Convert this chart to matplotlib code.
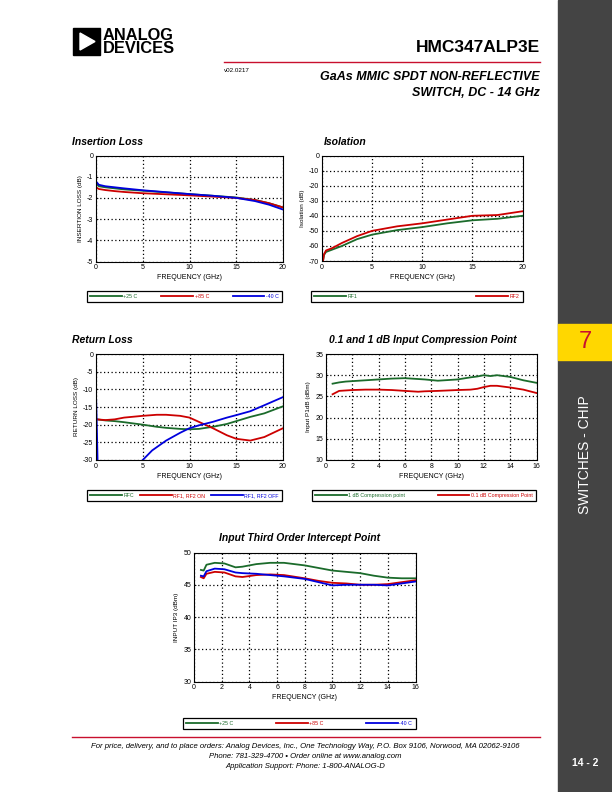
import matplotlib
matplotlib.use("Agg")
import matplotlib.pyplot as plt
from matplotlib.patches import Rectangle, Polygon
from matplotlib.lines import Line2D

plt.rcParams["font.family"] = ["Liberation Sans", "DejaVu Sans"]
plt.rcParams["axes.unicode_minus"] = False

GREEN = "#1b6b2b"
RED = "#cc0000"
BLUE = "#0000dd"

# ---- Insertion loss (dB) vs frequency (GHz)
il_freq = [0.0, 0.3, 1, 2, 3, 5, 7.5, 10, 12.5, 15, 17, 18.5, 20]
il_25 = [-1.30, -1.45, -1.50, -1.55, -1.60, -1.66, -1.74, -1.82, -1.90, -1.98, -2.10, -2.25, -2.45]
il_85 = [-1.50, -1.58, -1.63, -1.68, -1.72, -1.78, -1.83, -1.88, -1.94, -2.00, -2.10, -2.25, -2.45]
il_m40 = [-1.22, -1.38, -1.45, -1.50, -1.55, -1.64, -1.73, -1.82, -1.90, -2.00, -2.15, -2.32, -2.55]

# ---- Isolation (dB)
iso_freq = [0.1, 0.2, 0.4, 1, 2, 3.5, 5, 7.5, 10, 12.5, 15, 17.5, 20]
iso_rf1 = [-70, -66, -64, -62.5, -60, -55.5, -52.5, -49.5, -47.5, -45, -43, -42, -40]
iso_rf2 = [-70, -65.5, -63, -61.5, -58, -53.5, -50, -47, -45, -42.5, -40, -39.5, -37]

# ---- Return loss (dB)
rl_freq = [0.1, 1, 2, 3, 5, 6.5, 7.5, 9, 10, 11, 12.5, 14, 15, 16.5, 18, 20]
rl_rfc = [-18.5, -18.8, -19.0, -19.3, -20.0, -20.6, -20.9, -21.2, -21.3, -21.2, -20.6, -19.8, -19.0, -17.8, -16.8, -14.8]
rl_on = [-18.5, -18.7, -18.5, -18.0, -17.5, -17.2, -17.2, -17.5, -18.0, -19.2, -21.0, -23.0, -24.0, -24.5, -23.5, -21.0]
rl_off_freq = [0.02, 0.1, 0.2, 0.4, 4.5, 5, 6, 7.5, 9, 10, 11, 12.5, 14, 15, 16.5, 18, 20]
rl_off = [-13, -22, -34, -45, -31.5, -30, -27.3, -24.5, -22.3, -21, -20.2, -19.2, -18.0, -17.3, -16.2, -14.5, -12.2]

# ---- Compression point (dBm)
cp_freq = [0.5, 1, 1.5, 2, 3, 4, 5, 6, 7, 7.5, 8.5, 10, 11, 11.5, 12, 12.5, 13, 14, 15, 16]
cp_1db = [28.0, 28.3, 28.5, 28.6, 28.8, 29.0, 29.2, 29.3, 29.1, 29.0, 28.7, 29.0, 29.5, 29.7, 30.0, 29.8, 30.0, 29.6, 28.8, 28.2]
cp_01db = [25.5, 26.3, 26.4, 26.5, 26.6, 26.6, 26.5, 26.3, 26.1, 26.2, 26.3, 26.5, 26.6, 26.8, 27.2, 27.5, 27.5, 27.1, 26.6, 25.8]

# ---- Input IP3 (dBm)
ip3_freq = [0.5, 0.7, 0.9, 1.5, 2.2, 3, 3.5, 4.5, 5.5, 6.5, 8, 9, 10, 11, 12, 13, 14, 15, 16]
ip3_25 = [47.3, 47.2, 48.1, 48.4, 48.3, 47.7, 47.8, 48.2, 48.4, 48.4, 48.0, 47.6, 47.2, 47.0, 46.8, 46.4, 46.1, 46.0, 46.0]
ip3_85 = [46.2, 46.0, 46.7, 47.0, 46.9, 46.3, 46.2, 46.5, 46.6, 46.5, 46.0, 45.6, 45.3, 45.2, 45.0, 45.0, 45.1, 45.4, 45.7]
ip3_m40 = [46.4, 46.3, 47.1, 47.5, 47.4, 46.9, 46.8, 46.7, 46.5, 46.3, 45.9, 45.4, 44.9, 45.0, 45.0, 45.0, 44.9, 45.2, 45.5]

W, H = 612, 792
fig = plt.figure(figsize=(W / 100, H / 100), dpi=100)


def fx(x):
    return x / W


def fy(y):
    return 1 - y / H


def make_axes(left, top, right, bottom):
    return fig.add_axes([fx(left), fy(bottom), fx(right) - fx(left), fy(top) - fy(bottom)])


def style_axes(ax, xlim, ylim, xticks, yticks, ylabel):
    ax.set_xlim(*xlim)
    ax.set_ylim(*ylim)
    ax.set_xticks(xticks)
    ax.set_yticks(yticks)
    ax.grid(True, color="black", linestyle=(0, (1, 2)), linewidth=0.9)
    ax.tick_params(labelsize=5, length=1.5, direction="in", pad=2, width=0.5)
    ax.set_xlabel("FREQUENCY (GHz)", fontsize=5, labelpad=2)
    ax.set_ylabel(ylabel, fontsize=4.6, labelpad=3)
    for spine in ax.spines.values():
        spine.set_linewidth(0.8)


def add_legend(ax, left, top, right, bottom):
    ncol = len(ax.get_lines())
    leg = ax.legend(
        loc="lower left",
        bbox_to_anchor=(fx(left), fy(bottom), fx(right) - fx(left), fy(top) - fy(bottom)),
        bbox_transform=fig.transFigure,
        mode="expand",
        ncol=ncol,
        fontsize=3.8,
        labelcolor="linecolor",
        handlelength=6,
        handletextpad=0.3,
        borderaxespad=0,
        borderpad=0.6,
        fancybox=False,
        edgecolor="black",
        framealpha=1,
    )
    leg.get_frame().set_linewidth(0.9)


def add_title(text, x, y, ha="left"):
    fig.text(fx(x), fy(y), text, fontsize=7.5, fontweight="bold", fontstyle="italic", ha=ha, va="center")


lw = 1.3

# Insertion loss
ax1 = make_axes(96, 155.5, 283, 261.5)
ax1.plot(il_freq, il_25, color=GREEN, lw=lw, label="+25 C")
ax1.plot(il_freq, il_85, color=RED, lw=lw, label="+85 C")
ax1.plot(il_freq, il_m40, color=BLUE, lw=lw, label="-40 C")
style_axes(ax1, (0, 20), (-5, 0), [0, 5, 10, 15, 20], [-5, -4, -3, -2, -1, 0], "INSERTION LOSS (dB)")
add_legend(ax1, 87, 288, 282, 302)
add_title("Insertion Loss", 72, 142)

# Isolation
ax2 = make_axes(322, 155.5, 522.5, 261)
ax2.plot(iso_freq, iso_rf1, color=GREEN, lw=lw, label="RF1")
ax2.plot(iso_freq, iso_rf2, color=RED, lw=lw, label="RF2")
style_axes(ax2, (0, 20), (-70, 0), [0, 5, 10, 15, 20], list(range(-70, 1, 10)), "Isolation (dB)")
add_legend(ax2, 311, 288, 522.5, 302)
add_title("Isolation", 324, 142)

# Return loss
ax3 = make_axes(96, 354, 283, 460)
ax3.plot(rl_freq, rl_rfc, color=GREEN, lw=lw, label="RFC")
ax3.plot(rl_freq, rl_on, color=RED, lw=lw, label="RF1, RF2 ON")
ax3.plot(rl_off_freq, rl_off, color=BLUE, lw=lw, label="RF1, RF2 OFF")
style_axes(ax3, (0, 20), (-30, 0), [0, 5, 10, 15, 20], list(range(-30, 1, 5)), "RETURN LOSS (dB)")
add_legend(ax3, 87, 487, 282, 501)
add_title("Return Loss", 72, 340)

# Compression point
ax4 = make_axes(326, 354, 536.5, 460)
ax4.plot(cp_freq, cp_1db, color=GREEN, lw=lw, label="1 dB Compression point")
ax4.plot(cp_freq, cp_01db, color=RED, lw=lw, label="0.1 dB Compression Point")
style_axes(ax4, (0, 16), (10, 35), list(range(0, 17, 2)), list(range(10, 36, 5)), "Input P1dB (dBm)")
add_legend(ax4, 312, 485, 536, 501)
add_title("0.1 and 1 dB Input Compression Point", 423, 340, ha="center")

# IP3
ax5 = make_axes(194, 552.5, 415.5, 681.5)
ax5.plot(ip3_freq, ip3_25, color=GREEN, lw=lw, label="+25 C")
ax5.plot(ip3_freq, ip3_85, color=RED, lw=lw, label="+85 C")
ax5.plot(ip3_freq, ip3_m40, color=BLUE, lw=lw, label="-40 C")
style_axes(ax5, (0, 16), (30, 50), list(range(0, 17, 2)), list(range(30, 51, 5)), "INPUT IP3 (dBm)")
add_legend(ax5, 183, 713, 415.5, 729)
add_title("Input Third Order Intercept Point", 300, 538, ha="center")

# ---- page decoration: side bar
fig.patches.append(Rectangle((fx(558), 0), 1 - fx(558), 1, transform=fig.transFigure, color="#444444", zorder=0))
fig.patches.append(Rectangle((fx(558), fy(360)), 1 - fx(558), fy(324) - fy(360), transform=fig.transFigure,
                             color="#ffd700", zorder=1))
fig.text(fx(585), fy(342), "7", fontsize=17, color="#c8102e", ha="center", va="center")
fig.text(fx(585), fy(455), "SWITCHES - CHIP", fontsize=10, color="white", rotation=90, ha="center", va="center")
fig.text(fx(585), fy(763), "14 - 2", fontsize=7.5, fontweight="bold", color="white", ha="center", va="center")

# ---- header
fig.patches.append(Rectangle((fx(73), fy(55)), fx(27), fy(28) - fy(55), transform=fig.transFigure,
                             color="black", zorder=2))
fig.patches.append(Polygon([(fx(80), fy(33)), (fx(80), fy(50)), (fx(95), fy(41.5))], closed=True,
                           transform=fig.transFigure, color="white", zorder=3))
fig.text(fx(103), fy(35), "ANALOG", fontsize=11.8, fontweight="bold", ha="left", va="center")
fig.text(fx(103), fy(48.5), "DEVICES", fontsize=11.8, fontweight="bold", ha="left", va="center")
fig.text(fx(540), fy(48), "HMC347ALP3E", fontsize=12.5, fontweight="bold", ha="right", va="center")
fig.add_artist(Line2D([fx(224), fx(540)], [fy(62), fy(62)], transform=fig.transFigure, color="#c8102e", lw=1.0))
fig.text(fx(224), fy(70), "v02.0217", fontsize=4.5, ha="left", va="center")
fig.text(fx(540), fy(77), "GaAs MMIC SPDT NON-REFLECTIVE", fontsize=9, fontweight="bold", fontstyle="italic",
         ha="right", va="center")
fig.text(fx(540), fy(93), "SWITCH, DC - 14 GHz", fontsize=9, fontweight="bold", fontstyle="italic",
         ha="right", va="center")

# ---- footer
fig.add_artist(Line2D([fx(72), fx(540)], [fy(737), fy(737)], transform=fig.transFigure, color="#c8102e", lw=1.0))
footer_lines = [
    "For price, delivery, and to place orders: Analog Devices, Inc., One Technology Way, P.O. Box 9106, Norwood, MA 02062-9106",
    "Phone: 781-329-4700 \u2022 Order online at www.analog.com",
    "Application Support: Phone: 1-800-ANALOG-D",
]
for i, line in enumerate(footer_lines):
    fig.text(fx(305), fy(746 + 10 * i), line, fontsize=5.6, fontstyle="italic", ha="center", va="center")

fig.savefig("out.png", dpi=100)
